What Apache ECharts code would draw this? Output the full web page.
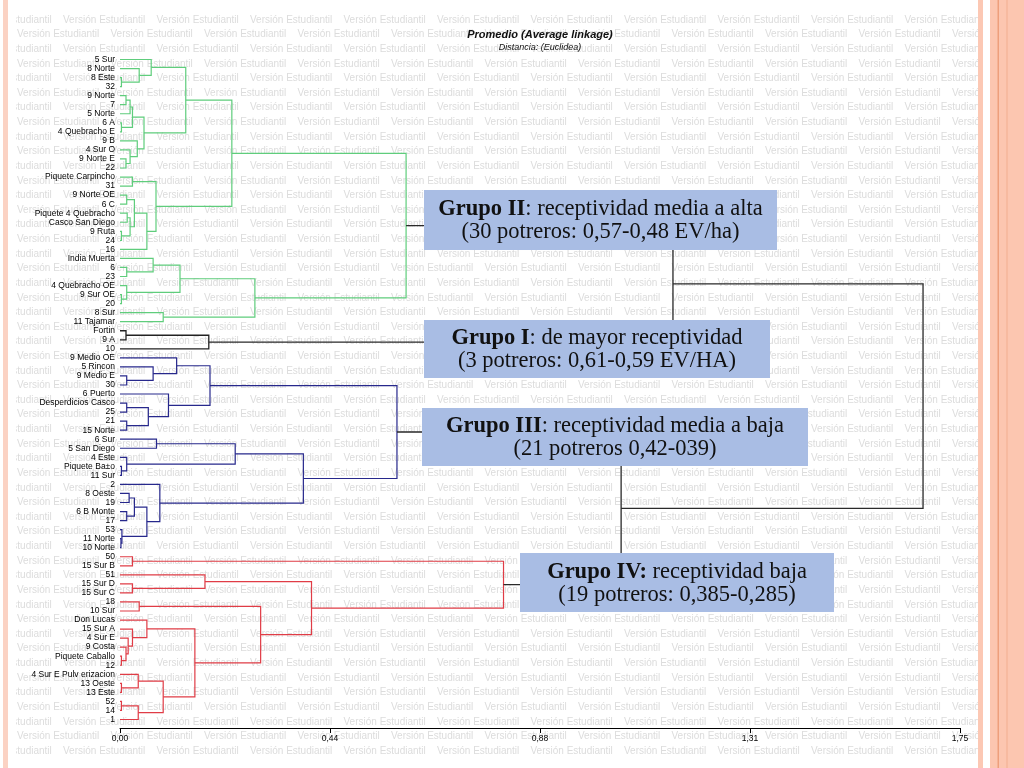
<!DOCTYPE html>
<html><head><meta charset="utf-8">
<script src="https://cdn.jsdelivr.net/npm/echarts@6/dist/echarts.min.js"></script>
<style>html,body{margin:0;padding:0;background:#fff}#c{width:1024px;height:768px}</style>
</head><body><div id="c"></div><script>
// ---------- DATA ----------
const leavesII = ['5 Sur','8 Norte','8 Este','32','9 Norte','7','5 Norte','6 A','4 Quebracho E','9 B','4 Sur O','9 Norte E','22','Piquete Carpincho','31','9 Norte OE','6 C','Piquete 4 Quebracho','Casco San Diego','9 Ruta','24','16','India Muerta','6','23','4 Quebracho OE','9 Sur OE','20','8 Sur','11 Tajamar'];
const leavesI = ['Fortin','9 A','10'];
const leavesIII = ['9 Medio OE','5 Rincon','9 Medio E','30','6 Puerto','Desperdicios Casco','25','21','15 Norte','6 Sur','5 San Diego','4 Este','Piquete Ba±o','11 Sur','2','8 Oeste','19','6 B Monte','17','53','11 Norte','10 Norte'];
const leavesIV = ['50','15 Sur B','51','15 Sur D','15 Sur C','18','10 Sur','Don Lucas','15 Sur A','4 Sur E','9 Costa','Piquete Caballo','12','4 Sur E Pulv erizacion','13 Oeste','13 Este','52','14','1'];

// merges: [childA, childB, distance]; string = leaf, number = global merge index
const mergesII = [
  ['8 Este','32',0.003], ['8 Norte',0,0.040], ['5 Sur',1,0.065],
  ['9 Norte','7',0.0125], [3,'5 Norte',0.021], ['6 A','4 Quebracho E',0.003], [4,5,0.026],
  ['9 Norte E','22',0.0125], ['4 Sur O',7,0.021], ['9 B',8,0.036], [6,9,0.050], [2,10,0.137],
  ['Piquete Carpincho','31',0.026], ['9 Norte OE','6 C',0.014], ['Piquete 4 Quebracho','Casco San Diego',0.015],
  ['9 Ruta','24',0.003], [14,15,0.021], [13,16,0.030], [17,'16',0.056], [12,18,0.075], [11,19,0.233],
  ['6','23',0.014], ['India Muerta',21,0.069], ['9 Sur OE','20',0.003], ['4 Quebracho OE',23,0.014],
  [22,24,0.125], ['8 Sur','11 Tajamar',0.090], [25,26,0.281], [20,27,0.596]
];
const mergesI = [ ['Fortin','9 A',0.0125], [29,'10',0.185] ];
const mergesIII = [
  ['9 Medio E','30',0.014], ['5 Rincon',31,0.069], ['9 Medio OE',32,0.118],
  ['Desperdicios Casco','25',0.014], ['21','15 Norte',0.014], [34,35,0.059], ['6 Puerto',36,0.101], [33,37,0.1875],
  ['6 Sur','5 San Diego',0.076], ['Piquete Ba±o','11 Sur',0.003], ['4 Este',40,0.014], [39,41,0.240],
  ['8 Oeste','19',0.019], ['6 B Monte','17',0.014], [43,44,0.030], ['11 Norte','10 Norte',0.002],
  ['53',46,0.004], [45,47,0.056], ['2',48,0.083], [42,49,0.382], [38,50,0.577]
];
const mergesIV = [
  ['50','15 Sur B',0.026], ['15 Sur D','15 Sur C',0.026], ['51',53,0.177], ['18','10 Sur',0.040],
  ['Piquete Caballo','12',0.003], ['9 Costa',56,0.0125], ['4 Sur E',57,0.017], ['15 Sur A',58,0.026],
  ['Don Lucas',59,0.056], ['13 Oeste','13 Este',0.003], ['4 Sur E Pulv erizacion',61,0.038],
  ['52','14',0.003], ['1',63,0.038], [62,64,0.090], [60,65,0.156], [55,66,0.293], [54,67,0.399], [52,68,0.799]
];
const mergesTop = [ [28,30,1.152], [51,69,1.044], [70,71,1.673] ];

const xTickLabels = ['0,00','0,44','0,88','1,31','1,75'];
const titleText = 'Promedio (Average linkage)';
const subText = 'Distancia: (Euclidea)';
const groupBoxes = [
  {bold:'Grupo II', rest:': receptividad media a alta', line2:'(30 potreros: 0,57-0,48 EV/ha)'},
  {bold:'Grupo I', rest:': de mayor receptividad', line2:'(3 potreros: 0,61-0,59 EV/HA)'},
  {bold:'Grupo III', rest:': receptividad media a baja', line2:'(21 potreros 0,42-039)'},
  {bold:'Grupo IV:', rest:' receptividad baja', line2:'(19 potreros: 0,385-0,285)'}
];
const watermarkText = 'Versión Estudiantil';

// ---------- BUILD ----------
const leaves = [...leavesII, ...leavesI, ...leavesIII, ...leavesIV];
const groupOf = [
  ...mergesII.map(()=> 'II'), ...mergesI.map(()=> 'I'), ...mergesIII.map(()=> 'III'),
  ...mergesIV.map(()=> 'IV'), ...mergesTop.map(()=> 'top')
];
const merges = [...mergesII, ...mergesI, ...mergesIII, ...mergesIV, ...mergesTop];
const leafIdx = {}; leaves.forEach((n,i)=> leafIdx[n]=i);
const nodeY = [], nodeH = [];
function ref(r){ return typeof r === 'number' ? {y:nodeY[r], h:nodeH[r]} : {y:leafIdx[r], h:0}; }
const linkData = merges.map((m,k)=>{
  const a = ref(m[0]), b = ref(m[1]);
  nodeY[k] = (a.y + b.y)/2; nodeH[k] = m[2];
  return [a.h, a.y, m[2], b.y, b.h];
});

// ---------- STYLE ----------
const linkColor = {II:'#5fcd7c', I:'#222222', III:'#27288c', IV:'#e03c46', top:'#2a2a2a'};
const boxLayout = [
  {x:424, y:190, w:353, h:60},
  {x:424, y:320, w:346, h:58},
  {x:422, y:408, w:386, h:58},
  {x:520, y:553, w:314, h:59}
];
const serif = "'Liberation Serif', 'Times New Roman', serif";

const graphics = [];
// watermark
for (let k = 0; k <= 50; k++) {
  const y = 20 + 14.62 * k;
  let x = (k % 2 === 0) ? 63 - 93.5 : 17;
  for (; x < 980; x += 93.5) {
    graphics.push({type:'text', x:x, y:y, z:-10, silent:true,
      style:{text:watermarkText, fill:'#dcdcdc', font:'10px "Liberation Sans", Arial, sans-serif', verticalAlign:'middle'}});
  }
}
// covers and borders
graphics.push({type:'rect', z:-9, silent:true, shape:{x:0,y:0,width:16,height:768}, style:{fill:'#fff'}});
graphics.push({type:'rect', z:-9, silent:true, shape:{x:978,y:0,width:46,height:768}, style:{fill:'#fff'}});
graphics.push({type:'rect', z:-8, silent:true, shape:{x:3,y:0,width:5,height:768}, style:{fill:'#fbd2c3'}});
graphics.push({type:'rect', z:-8, silent:true, shape:{x:978,y:0,width:5,height:768}, style:{fill:'#fcc8b4'}});
graphics.push({type:'rect', z:-8, silent:true, shape:{x:990,y:0,width:34,height:768}, style:{fill:'#fcc6b0'}});
graphics.push({type:'rect', z:-7, silent:true, shape:{x:997.5,y:0,width:1.5,height:768}, style:{fill:'#ee9f7c'}});
graphics.push({type:'rect', z:-7, silent:true, shape:{x:1006.5,y:0,width:1,height:768}, style:{fill:'#f2ae90'}});
// group boxes
groupBoxes.forEach((b,i)=>{
  const L = boxLayout[i];
  graphics.push({type:'rect', z:100, silent:true, shape:{x:L.x,y:L.y,width:L.w,height:L.h}, style:{fill:'#a9bde4'}});
  graphics.push({type:'text', z:101, silent:true, x:L.x + L.w/2, y:L.y + L.h/2 + 1,
    style:{text:'{b|' + b.bold + '}{n|' + b.rest + '}\n{n|' + b.line2 + '}',
      align:'center', verticalAlign:'middle', fill:'#111',
      rich:{
        b:{fontFamily:serif, fontSize:22.5, fontWeight:'bold', lineHeight:23, fill:'#111'},
        n:{fontFamily:serif, fontSize:22.5, fontWeight:'normal', lineHeight:23, fill:'#111'}
      }}});
});

const chart = echarts.init(document.getElementById('c'), null, {renderer:'canvas'});
chart.setOption({
  animation:false,
  backgroundColor:'#fff',
  title:{text:titleText, subtext:subText, left:535, top:24, textAlign:'center', itemGap:3,
    textStyle:{fontFamily:"'Liberation Sans Narrow','Liberation Sans',Arial", fontSize:11, fontWeight:'bold', fontStyle:'italic', color:'#111'},
    subtextStyle:{fontFamily:"'Liberation Sans Narrow','Liberation Sans',Arial", fontSize:9, fontStyle:'italic', color:'#111'}},
  grid:{left:120, right:64, top:55, height:669},
  xAxis:{type:'value', min:0, max:1.75, interval:0.4375, offset:4, position:'bottom',
    axisLine:{onZero:false, lineStyle:{color:'#000', width:1}},
    axisTick:{show:true, inside:false, length:5, lineStyle:{color:'#000'}},
    splitLine:{show:false},
    axisLabel:{fontSize:8.5, color:'#000', margin:6, fontFamily:"'Liberation Sans',Arial",
      formatter:(v,i)=> xTickLabels[i] }},
  yAxis:[
    {type:'category', data:leaves, inverse:true, axisLine:{show:false}, axisTick:{show:false},
      axisLabel:{fontSize:8.5, color:'#000', margin:5, interval:0, fontFamily:"'Liberation Sans',Arial"}},
    {type:'value', min:-0.5, max:73.5, inverse:true, show:false}
  ],
  series:[{
    type:'custom', xAxisIndex:0, yAxisIndex:1, clip:false,
    encode:{x:[0,2,4], y:[1,3]},
    data: linkData,
    renderItem:(params, api)=>{
      const pts = [
        api.coord([api.value(0), api.value(1)]),
        api.coord([api.value(2), api.value(1)]),
        api.coord([api.value(2), api.value(3)]),
        api.coord([api.value(4), api.value(3)])
      ];
      const g = groupOf[params.dataIndex];
      return {type:'polyline', shape:{points:pts},
        style:{stroke:linkColor[g], lineWidth:(g==='top'||g==='I')?1.3:1.2, fill:null}};
    }
  }],
  graphic: graphics
});
</script></body></html>
